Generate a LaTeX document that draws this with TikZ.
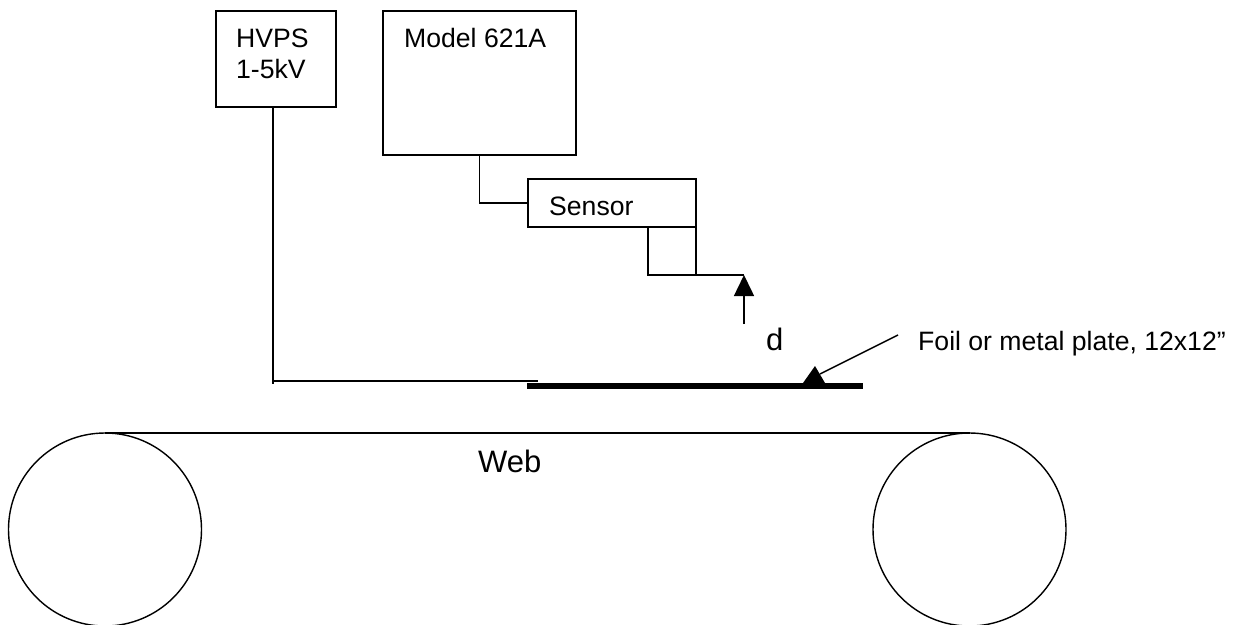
\documentclass[tikz,border=0pt]{standalone}
\usepackage{fontspec}
\setmainfont{Liberation Sans}
\usetikzlibrary{arrows.meta}
\tikzset{
    unit/.style={draw,line width=1.5pt,inner sep=0pt,outer sep=0pt,minimum width=#1},
    wire/.style={line width=1.5pt},
    tag/.style={inner sep=0pt,anchor=base west,font=\fontsize{26.6pt}{30pt}\selectfont},
    bigtag/.style={tag,font=\fontsize{31pt}{36pt}\selectfont},
    roller/.style={circle,draw,line width=1.4pt,inner sep=0pt,outer sep=0pt,minimum size=193pt}
}

\begin{document}
\begin{tikzpicture}[x=1pt,y=-1pt]
        \useasboundingbox (0,0) rectangle (1238,624);
        % boxes
        \node[unit=120pt,minimum height=96pt] (hvps) at (276,59) {};
        \node[unit=193pt,minimum height=144pt] (model) at (479.5,83) {};
        \node[unit=168pt,minimum height=48pt] (sensor) at (612,203) {};
        \node[unit=48pt,minimum height=48pt] (probe) at (672,251) {};
        \node[tag] (hvpstext) at (236,47) {HVPS};
        \node[tag] (kvtext) at (236,78) {1-5kV};
        \node[tag] (modeltext) at (404,47) {Model 621A};
        \node[tag] (sensortext) at (549,215) {Sensor};
        % plate and web
        \node[fill,inner sep=0pt,outer sep=0pt,minimum width=336pt,minimum height=6pt] (plate) at (695,386) {};
        \node[roller] (left) at (105,529.5) {};
        \node[roller] (right) at (969.5,529.5) {};
        \node[bigtag] (webtext) at (478,472) {Web};
        \draw[wire] (left.north) -- (right.north);
        % wires
        \coordinate (hvpsdrop) at (273,107);
        \coordinate (hvpsfoot) at (273,384);
        \coordinate (hvpscorner) at (273,381);
        \coordinate (plateend) at (538,381);
        \draw[wire] (hvpsdrop) -- (hvpsfoot);
        \draw[wire] (hvpscorner) -- (plateend);
        \draw[wire] (model.south) |- (sensor.west);
        % gap
        \coordinate (gaptop) at (744,275);
        \coordinate (gapfoot) at (744,324);
        \draw[wire] (probe.south east) -- (gaptop);
        \draw[wire,-{Triangle[length=21pt,width=20pt]}] (gapfoot) -- (gaptop);
        \node[bigtag] (gaptext) at (766,350) {d};
        % foil note
        \node[tag] (foiltext) at (918,350) {Foil or metal plate, 12x12”};
        \coordinate (foiltip) at (815,366);
        \coordinate (foilleft) at (803,383);
        \coordinate (foilright) at (825,383);
        \coordinate (foilend) at (898,335);
        \coordinate (foilfoot) at (820,374);
        \fill (foiltip) -- (foilleft) -- (foilright) -- cycle;
        \draw[wire] (foilend) -- (foilfoot);
    \end{tikzpicture}
\end{document}
